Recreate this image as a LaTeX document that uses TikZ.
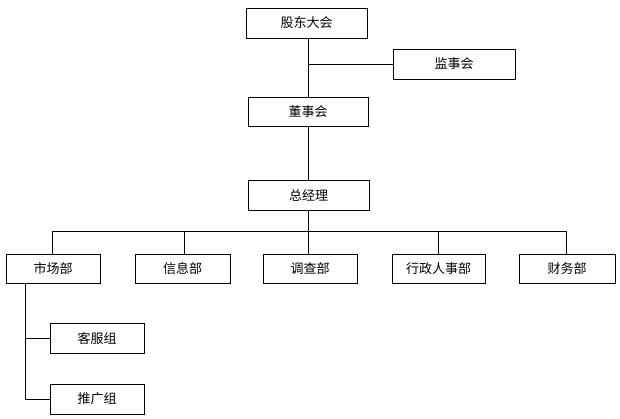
\documentclass[tikz,border=0pt]{standalone}
\usepackage{fontspec}
\newfontfamily\cjk{Noto Sans CJK SC}
\begin{document}
\begin{tikzpicture}[x=1pt,y=-1pt,
  box/.style={draw=black,line width=0.9pt,fill=white,inner sep=0pt,font=\cjk\fontsize{13}{15}\selectfont},
  link/.style={draw=black,line width=0.9pt}]
\useasboundingbox[fill=white] (0,0) rectangle (620,418);
\newcommand{\bx}[6]{\node[box,minimum width=#4-#2,minimum height=#5-#3] (#1) at ({(#2+#4)/2},{(#3+#5)/2}) {#6};}
\bx{gd}{246}{8}{367}{38}{股东大会}
\bx{js}{393}{49}{515}{79}{监事会}
\bx{ds}{248}{97}{368}{126}{董事会}
\bx{zj}{248}{180}{369}{210}{总经理}
\bx{sc}{6}{254}{100}{283}{市场部}
\bx{xx}{135}{254}{230}{283}{信息部}
\bx{dc}{263}{254}{357}{283}{调查部}
\bx{xz}{392}{254}{485}{283}{行政人事部}
\bx{cw}{519}{254}{615}{283}{财务部}
\bx{kf}{50}{323}{144}{353}{客服组}
\bx{tg}{50}{384}{144}{414}{推广组}
\coordinate (bus) at (308,231);
\coordinate (jsj) at (308,64);
\draw[link] (gd.south -| jsj) -- (ds.north -| jsj);
\draw[link] (jsj) -- (js.west |- jsj);
\draw[link] (ds.south -| jsj) -- (zj.north -| jsj);
\draw[link] (zj.south -| bus) -- (bus);
\draw[link] (sc.north -| 52,0) -- (52,231) -- (566,231) -- (cw.north -| 566,0);
\draw[link] (xx.north -| 184,0) -- (184,231);
\draw[link] (dc.north -| 308,0) -- (308,231);
\draw[link] (xz.north -| 438,0) -- (438,231);
\draw[link] (sc.south -| 25,0) -- (25,399) -- (tg.west |- 0,399);
\draw[link] (25,338) -- (kf.west |- 0,338);
\end{tikzpicture}
\end{document}
